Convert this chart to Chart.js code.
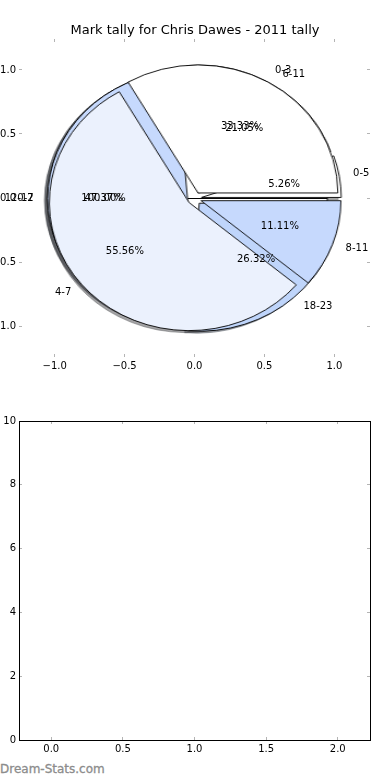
<!DOCTYPE html>
<html>
<head>
<meta charset="utf-8">
<title>Mark tally for Chris Dawes - 2011 tally</title>
<script src="https://cdn.jsdelivr.net/npm/chart.js@4.4.1/dist/chart.umd.min.js"></script>
<style>
  html, body { margin: 0; padding: 0; background: #fff; }
  #page { position: relative; width: 390px; height: 780px; overflow: hidden; font-family: "DejaVu Sans", sans-serif; }
  #page canvas { position: absolute; }
  #title { position: absolute; left: 0; top: 22px; width: 390px; text-align: center; font-size: 13px; line-height: 16px; color: #000; z-index: 20; }
  #brand { position: absolute; left: 0; top: 761px; font-size: 12px; line-height: 16px; color: #8c8c8c; -webkit-text-stroke: 0.3px #8c8c8c; }
</style>
</head>
<body>
<div id="page">
  <div id="title">Mark tally for Chris Dawes - 2011 tally</div>
  <canvas id="axesTop" width="390" height="380" style="left:0;top:0;z-index:10"></canvas>
  <canvas id="axesBottom" width="390" height="400" style="left:0;top:380px;z-index:10"></canvas>
  <div id="brand">Dream-Stats.com</div>
</div>
<script>
// three pies drawn on top of each other, first one lowest
var pie1Labels = ['0-2'];
var pie1Values = [1];

var pie2Labels = ['0-5', '6-11', '12-17', '18-23'];
var pie2Values = [1, 4, 9, 5];

var pie3Labels = ['0-3', '4-7', '8-11'];
var pie3Values = [3, 5, 1];

var pieXTicks = [-1, -0.5, 0, 0.5, 1];
var pieYTicks = [-1, -0.5, 0, 0.5, 1];

// lower panel is empty
var lowerPoints = [];
var lowerXTicks = [0, 0.5, 1, 1.5, 2];
var lowerYTicks = [0, 2, 4, 6, 8, 10];

var pie1Colors = ['#ffffff'];
var pie2Colors = ['#ffffff', '#ffffff', '#c6d9fd', '#bfd5fb'];
var pie3Colors = ['#ffffff', '#ebf1fd', '#c6d9fd'];

var explode = 0.05;
var shadowShift = 0.02;

var pies = [
  { labels: pie1Labels, values: pie1Values, colors: pie1Colors },
  { labels: pie2Labels, values: pie2Values, colors: pie2Colors },
  { labels: pie3Labels, values: pie3Values, colors: pie3Colors }
];

Chart.defaults.font.family = "'DejaVu Sans', sans-serif";
Chart.defaults.font.size = 10;
Chart.defaults.color = '#000';

function fmtTick(v, digits) {
  var s = Math.abs(v).toFixed(digits);
  return v < 0 ? '\u2212' + s : s;
}
function setTicks(list) {
  return function (s) { s.ticks = list.map(function (v) { return { value: v }; }); };
}
function fixSize(prop, px) {
  return function (s) { s[prop] = px; };
}
function shade(hex) {
  var n = parseInt(hex.slice(1), 16);
  var r = Math.round(((n >> 16) & 255) * 0.3), g = Math.round(((n >> 8) & 255) * 0.3), b = Math.round((n & 255) * 0.3);
  return 'rgba(' + r + ',' + g + ',' + b + ',0.5)';
}

var tickGrid = { drawOnChartArea: false, tickLength: -3, color: '#b4b4b4', lineWidth: 1 };

// labels and percentages, placed like matplotlib does (1.1 and 0.6 of the radius)
var pieTextPlugin = {
  id: 'pieText',
  afterDraw: function (chart) {
    var ctx = chart.ctx, xs = chart.scales.x, ys = chart.scales.y;
    ctx.save();
    ctx.font = "10px 'DejaVu Sans'";
    ctx.fillStyle = '#000';
    ctx.textBaseline = 'middle';
    pies.forEach(function (p) {
      var total = p.values.reduce(function (a, b) { return a + b; }, 0);
      var acc = 0;
      p.values.forEach(function (v, i) {
        var t1 = 360 * acc / total;
        acc += v;
        var t2 = 360 * acc / total;
        var a = (t1 + t2) / 2 * Math.PI / 180;
        var cos = Math.cos(a), sin = Math.sin(a);
        var lx = (explode + 1.1) * cos, ly = (explode + 1.1) * sin;
        ctx.textAlign = lx > 0 ? 'left' : 'right';
        ctx.fillText(p.labels[i], xs.getPixelForValue(lx), ys.getPixelForValue(ly));
        ctx.textAlign = 'center';
        ctx.fillText((100 * v / total).toFixed(2) + '%',
          xs.getPixelForValue((explode + 0.6) * cos), ys.getPixelForValue((explode + 0.6) * sin));
      });
    });
    ctx.restore();
  }
};

// push every wedge out along its middle angle
var explodePlugin = {
  id: 'explode',
  beforeDatasetDraw: function (chart, args, opts) {
    var ctx = chart.ctx, px = opts.px || 0;
    args.meta.data.forEach(function (arc) {
      var mid = (arc.startAngle + arc.endAngle) / 2;
      ctx.save();
      ctx.translate(Math.cos(mid) * px, Math.sin(mid) * px);
      arc.draw(ctx, chart.chartArea);
      ctx.restore();
    });
    return false;
  }
};

var topChart = new Chart(document.getElementById('axesTop'), {
  type: 'scatter',
  data: { datasets: [{ data: [] }] },
  options: {
    responsive: false, animation: false, events: [], devicePixelRatio: 1,
    layout: { padding: 0 },
    plugins: { legend: { display: false }, tooltip: { enabled: false } },
    scales: {
      x: { type: 'linear', position: 'bottom', min: -1.255, max: 1.255,
        afterBuildTicks: setTicks(pieXTicks), afterFit: fixSize('height', 23),
        grid: tickGrid, border: { display: false },
        ticks: { padding: 6, callback: function (v) { return fmtTick(v, 1); } } },
      xTop: { type: 'linear', axis: 'x', position: 'top', min: -1.255, max: 1.255,
        afterBuildTicks: setTicks(pieXTicks), afterFit: fixSize('height', 39),
        grid: tickGrid, border: { display: false }, ticks: { display: false } },
      y: { type: 'linear', position: 'left', min: -1.242, max: 1.242,
        afterBuildTicks: setTicks(pieYTicks), afterFit: fixSize('width', 19),
        grid: tickGrid, border: { display: false },
        ticks: { padding: 6, callback: function (v) { return fmtTick(v, 1); } } },
      yRight: { type: 'linear', axis: 'y', position: 'right', min: -1.242, max: 1.242,
        afterBuildTicks: setTicks(pieYTicks), afterFit: fixSize('width', 20),
        grid: tickGrid, border: { display: false }, ticks: { display: false } }
    }
  },
  plugins: [pieTextPlugin]
});

// pies sit under the axes canvas, centred on (0,0) of its scales
var page = document.getElementById('page');
var xs = topChart.scales.x, ys = topChart.scales.y;
var cx = xs.getPixelForValue(0), cy = ys.getPixelForValue(0);
var rx = xs.getPixelForValue(1) - cx, ry = cy - ys.getPixelForValue(1);
var size = Math.ceil(ry * 2.6);

function makePie(p, z, isShadow) {
  var c = document.createElement('canvas');
  c.width = size;
  c.height = size;
  var dx = isShadow ? -shadowShift * rx : 0, dy = isShadow ? shadowShift * ry : 0;
  c.style.left = (cx - size / 2 + dx) + 'px';
  c.style.top = (cy - size / 2 + dy) + 'px';
  c.style.zIndex = z;
  c.style.transform = 'scaleX(' + (rx / ry) + ')';
  page.appendChild(c);
  var colors = isShadow ? p.colors.map(shade) : p.colors;
  // chart.js runs clockwise from the top; reverse and start at 3 o'clock to go counter-clockwise
  new Chart(c, {
    type: 'pie',
    data: {
      labels: p.labels.slice().reverse(),
      datasets: [{
        data: p.values.slice().reverse(),
        backgroundColor: colors.slice().reverse(),
        borderColor: isShadow ? colors.slice().reverse() : '#000',
        borderWidth: isShadow ? 0.8 : 0.9
      }]
    },
    options: {
      responsive: false, animation: false, events: [], devicePixelRatio: 1,
      rotation: 90, radius: ry,
      layout: { padding: 0 },
      plugins: { legend: { display: false }, tooltip: { enabled: false }, explode: { px: explode * ry } }
    },
    plugins: [explodePlugin]
  });
}

pies.forEach(function (p) { makePie(p, 1, true); });
pies.forEach(function (p, i) { makePie(p, 2 + i, false); });

new Chart(document.getElementById('axesBottom'), {
  type: 'scatter',
  data: { datasets: [{ data: lowerPoints }] },
  options: {
    responsive: false, animation: false, events: [], devicePixelRatio: 1,
    layout: { padding: 0 },
    plugins: { legend: { display: false }, tooltip: { enabled: false } },
    scales: {
      x: { type: 'linear', position: 'bottom', min: -0.225, max: 2.225,
        afterBuildTicks: setTicks(lowerXTicks), afterFit: fixSize('height', 40),
        grid: tickGrid, border: { display: true, color: '#000', width: 1 },
        ticks: { padding: 6, callback: function (v) { return fmtTick(v, 1); } } },
      xTop: { type: 'linear', axis: 'x', position: 'top', min: -0.225, max: 2.225,
        afterBuildTicks: setTicks(lowerXTicks), afterFit: fixSize('height', 41),
        grid: tickGrid, border: { display: true, color: '#000', width: 1 }, ticks: { display: false } },
      y: { type: 'linear', position: 'left', min: 0, max: 10,
        afterBuildTicks: setTicks(lowerYTicks), afterFit: fixSize('width', 19),
        grid: tickGrid, border: { display: true, color: '#000', width: 1 },
        ticks: { padding: 6, callback: function (v) { return String(v); } } },
      yRight: { type: 'linear', axis: 'y', position: 'right', min: 0, max: 10,
        afterBuildTicks: setTicks(lowerYTicks), afterFit: fixSize('width', 20),
        grid: tickGrid, border: { display: true, color: '#000', width: 1 }, ticks: { display: false } }
    }
  }
});
</script>
</body>
</html>
